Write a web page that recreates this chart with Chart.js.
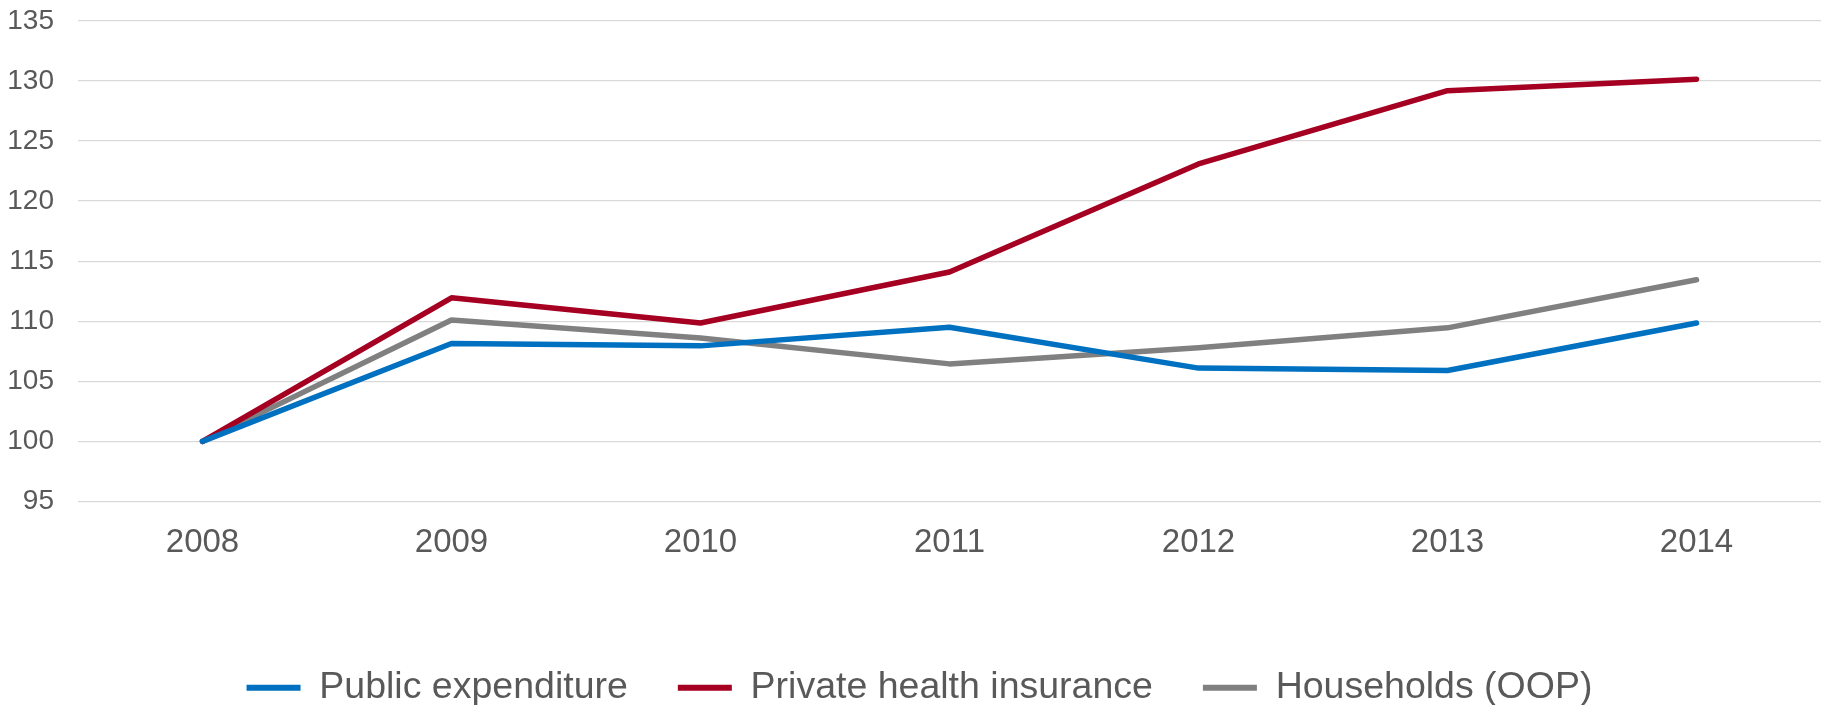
<!DOCTYPE html>
<html lang="en">
<head>
    <meta charset="UTF-8">
    <script src="https://cdn.jsdelivr.net/npm/chart.js"></script>
    <title>Health expenditure index</title>
    <style>
        body { margin: 0; background: #fff; }
        .wrap { width: 1823px; height: 705px; position: relative; }
    </style>
</head>
<body>
    <div class="wrap"><canvas id="myChart"></canvas></div>
    <script>
        // datos (2008 = 100)
        const years = ['2008', '2009', '2010', '2011', '2012', '2013', '2014'];
        const publicExp = [100, 108.15, 107.95, 109.5, 106.1, 105.9, 109.85];
        const privateIns = [100, 111.95, 109.85, 114.1, 123.1, 129.2, 130.15];
        const households = [100, 110.1, 108.6, 106.45, 107.8, 109.45, 113.45];
        const yTicks = [95, 100, 105, 110, 115, 120, 125, 130, 135];

        const font = 'Liberation Sans, Arial, sans-serif';

        function serie(label, data, color) {
            return {
                label: label,
                data: data,
                borderColor: color,
                backgroundColor: color,
                borderWidth: 5.5,
                pointRadius: 0,
                tension: 0,
                borderCapStyle: 'round',
                borderJoinStyle: 'round'
            };
        }

        // la leyenda de Chart.js deja mucho aire abajo; se recorta su alto
        // y se corre un poco a la derecha
        const legendFix = {
            id: 'legendFix',
            beforeLayout: function (chart) {
                const lg = chart.legend;
                if (lg && !lg._recortada) {
                    const fitOrig = lg.fit;
                    lg.fit = function () {
                        fitOrig.call(this);
                        this.height = 86;
                    };
                    lg._recortada = true;
                }
            },
            afterLayout: function (chart) {
                if (chart.legend) {
                    chart.legend.left += 9;
                    chart.legend.right += 9;
                }
            }
        };

        const ctx = document.getElementById('myChart').getContext('2d');
        new Chart(ctx, {
            type: 'line',
            data: {
                labels: years,
                datasets: [
                    serie('Public expenditure', publicExp, '#0070c0'),
                    serie('Private health insurance', privateIns, '#a50021'),
                    serie('Households (OOP)', households, '#808080')
                ]
            },
            plugins: [legendFix],
            options: {
                responsive: true,
                maintainAspectRatio: false,
                animation: false,
                layout: { padding: { top: 21, right: 2, left: 0, bottom: 0 } },
                plugins: {
                    tooltip: { enabled: false },
                    legend: {
                        position: 'bottom',
                        labels: {
                            font: { family: font, size: 37.5 },
                            color: '#595959',
                            boxWidth: 54,
                            boxHeight: 6,
                            padding: 50,
                            generateLabels: function (chart) {
                                return chart.data.datasets.map((ds, i) => ({
                                    text: ds.label,
                                    fillStyle: ds.borderColor,
                                    strokeStyle: ds.borderColor,
                                    lineWidth: 0,
                                    fontColor: '#595959',
                                    datasetIndex: i
                                }));
                            }
                        }
                    }
                },
                scales: {
                    x: {
                        offset: true,
                        grid: { display: false },
                        border: { display: false },
                        ticks: {
                            font: { family: font, size: 33 },
                            color: '#595959',
                            padding: 14,
                            maxRotation: 0
                        },
                        afterFit: function (axis) {
                            axis.height += 42;
                        }
                    },
                    y: {
                        min: 95,
                        max: 135,
                        afterBuildTicks: function (axis) {
                            axis.ticks = yTicks.map(v => ({ value: v }));
                        },
                        afterFit: function (axis) {
                            axis.width = 78;
                            axis.paddingTop = 0;
                            axis.paddingBottom = 0;
                        },
                        grid: { color: '#d9d9d9', lineWidth: 1.3, drawTicks: false },
                        border: { display: false },
                        ticks: {
                            font: { family: font, size: 28 },
                            color: '#595959',
                            padding: 24
                        }
                    }
                }
            }
        });
    </script>
</body>
</html>
